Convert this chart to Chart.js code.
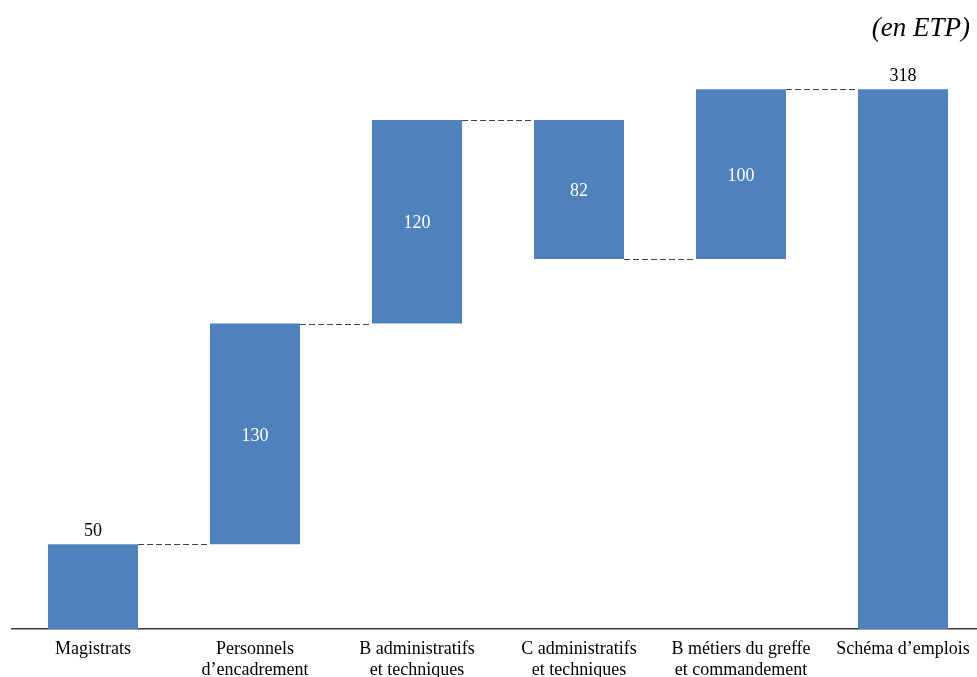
<!DOCTYPE html>
<html>
<head>
<meta charset="utf-8">
<script src="https://cdn.jsdelivr.net/npm/chart.js@4"></script>
<style>
  html, body { margin: 0; padding: 0; background: #fff; overflow: hidden; }
  #wrap { width: 984px; height: 690px; }
</style>
</head>
<body>
<div id="wrap"><canvas id="chart" width="984" height="690"></canvas></div>
<script>
// Waterfall: starting figure, successive changes, final total
var categories = [
    ["Magistrats"],
    ["Personnels", "d\u2019encadrement"],
    ["B administratifs", "et techniques"],
    ["C administratifs", "et techniques"],
    ["B m\u00e9tiers du greffe", "et commandement"],
    ["Sch\u00e9ma d\u2019emplois"]
];
var startValue = 50;
var changes = [130, 120, -82, 100];
var totalValue = 318;

var BAR_COLOR = "#4F81BD";
var SERIF = "'Liberation Serif', 'Times New Roman', serif";

// floating ranges [low, high] built from the running sum
var ranges = [[0, startValue]];
var levels = [startValue];
var running = startValue;
for (let i=0; i<changes.length; i++) {
    let next = running + changes[i];
    ranges.push([Math.min(running, next), Math.max(running, next)]);
    running = next;
    levels.push(running);
}
ranges.push([0, totalValue]);
var labelValues = [startValue].concat(changes.map(Math.abs), [totalValue]);

// dashed connectors, value labels and the unit note
var waterfallDecor = {
    id: "waterfallDecor",
    afterDatasetsDraw(chart) {
        let ctx = chart.ctx;
        let yScale = chart.scales.y;
        let bars = chart.getDatasetMeta(0).data;

        ctx.save();
        ctx.strokeStyle = "#404040";
        ctx.lineWidth = 1.2;
        ctx.setLineDash([6, 3]);
        for (let i=0; i<bars.length-1; i++) {
            let y = Math.round(yScale.getPixelForValue(levels[i])) + 0.5;
            let x1 = bars[i].x + bars[i].width / 2;
            let x2 = bars[i+1].x - bars[i+1].width / 2;
            ctx.beginPath();
            ctx.moveTo(x1, y);
            ctx.lineTo(x2, y);
            ctx.stroke();
        }
        ctx.setLineDash([]);

        ctx.font = "18px " + SERIF;
        ctx.textAlign = "center";
        for (let i=0; i<bars.length; i++) {
            let text = String(labelValues[i]);
            let top = yScale.getPixelForValue(ranges[i][1]);
            let bottom = yScale.getPixelForValue(ranges[i][0]);
            if (i === 0 || i === bars.length-1) {
                ctx.fillStyle = "#000";
                ctx.textBaseline = "alphabetic";
                ctx.fillText(text, bars[i].x, top - 8);
            } else {
                ctx.fillStyle = "#fff";
                ctx.textBaseline = "middle";
                ctx.fillText(text, bars[i].x, (top + bottom) / 2 + 2);
            }
        }

        ctx.font = "italic 27px " + SERIF;
        ctx.fillStyle = "#000";
        ctx.textAlign = "right";
        ctx.textBaseline = "alphabetic";
        ctx.fillText("(en ETP)", 970, 36);
        ctx.restore();
    }
};

new Chart(document.getElementById("chart"), {
    type: "bar",
    data: {
        labels: categories,
        datasets: [{
            data: ranges,
            backgroundColor: BAR_COLOR,
            borderWidth: 0,
            categoryPercentage: 0.556,
            barPercentage: 1
        }]
    },
    options: {
        responsive: false,
        animation: false,
        layout: { padding: { left: 12, right: 0, top: 52, bottom: 11 } },
        plugins: {
            legend: { display: false },
            tooltip: { enabled: false }
        },
        scales: {
            x: {
                grid: { display: false, drawTicks: false },
                border: { display: true, color: "#3a3a3a", width: 1.5 },
                ticks: {
                    color: "#000",
                    padding: 10,
                    maxRotation: 0,
                    autoSkip: false,
                    font: { family: SERIF, size: 18, lineHeight: 1.17 }
                },
                afterFit(scale) { scale.height = 50; }
            },
            y: {
                display: false,
                min: 0,
                max: 340
            }
        }
    },
    plugins: [waterfallDecor]
});
</script>
</body>
</html>
